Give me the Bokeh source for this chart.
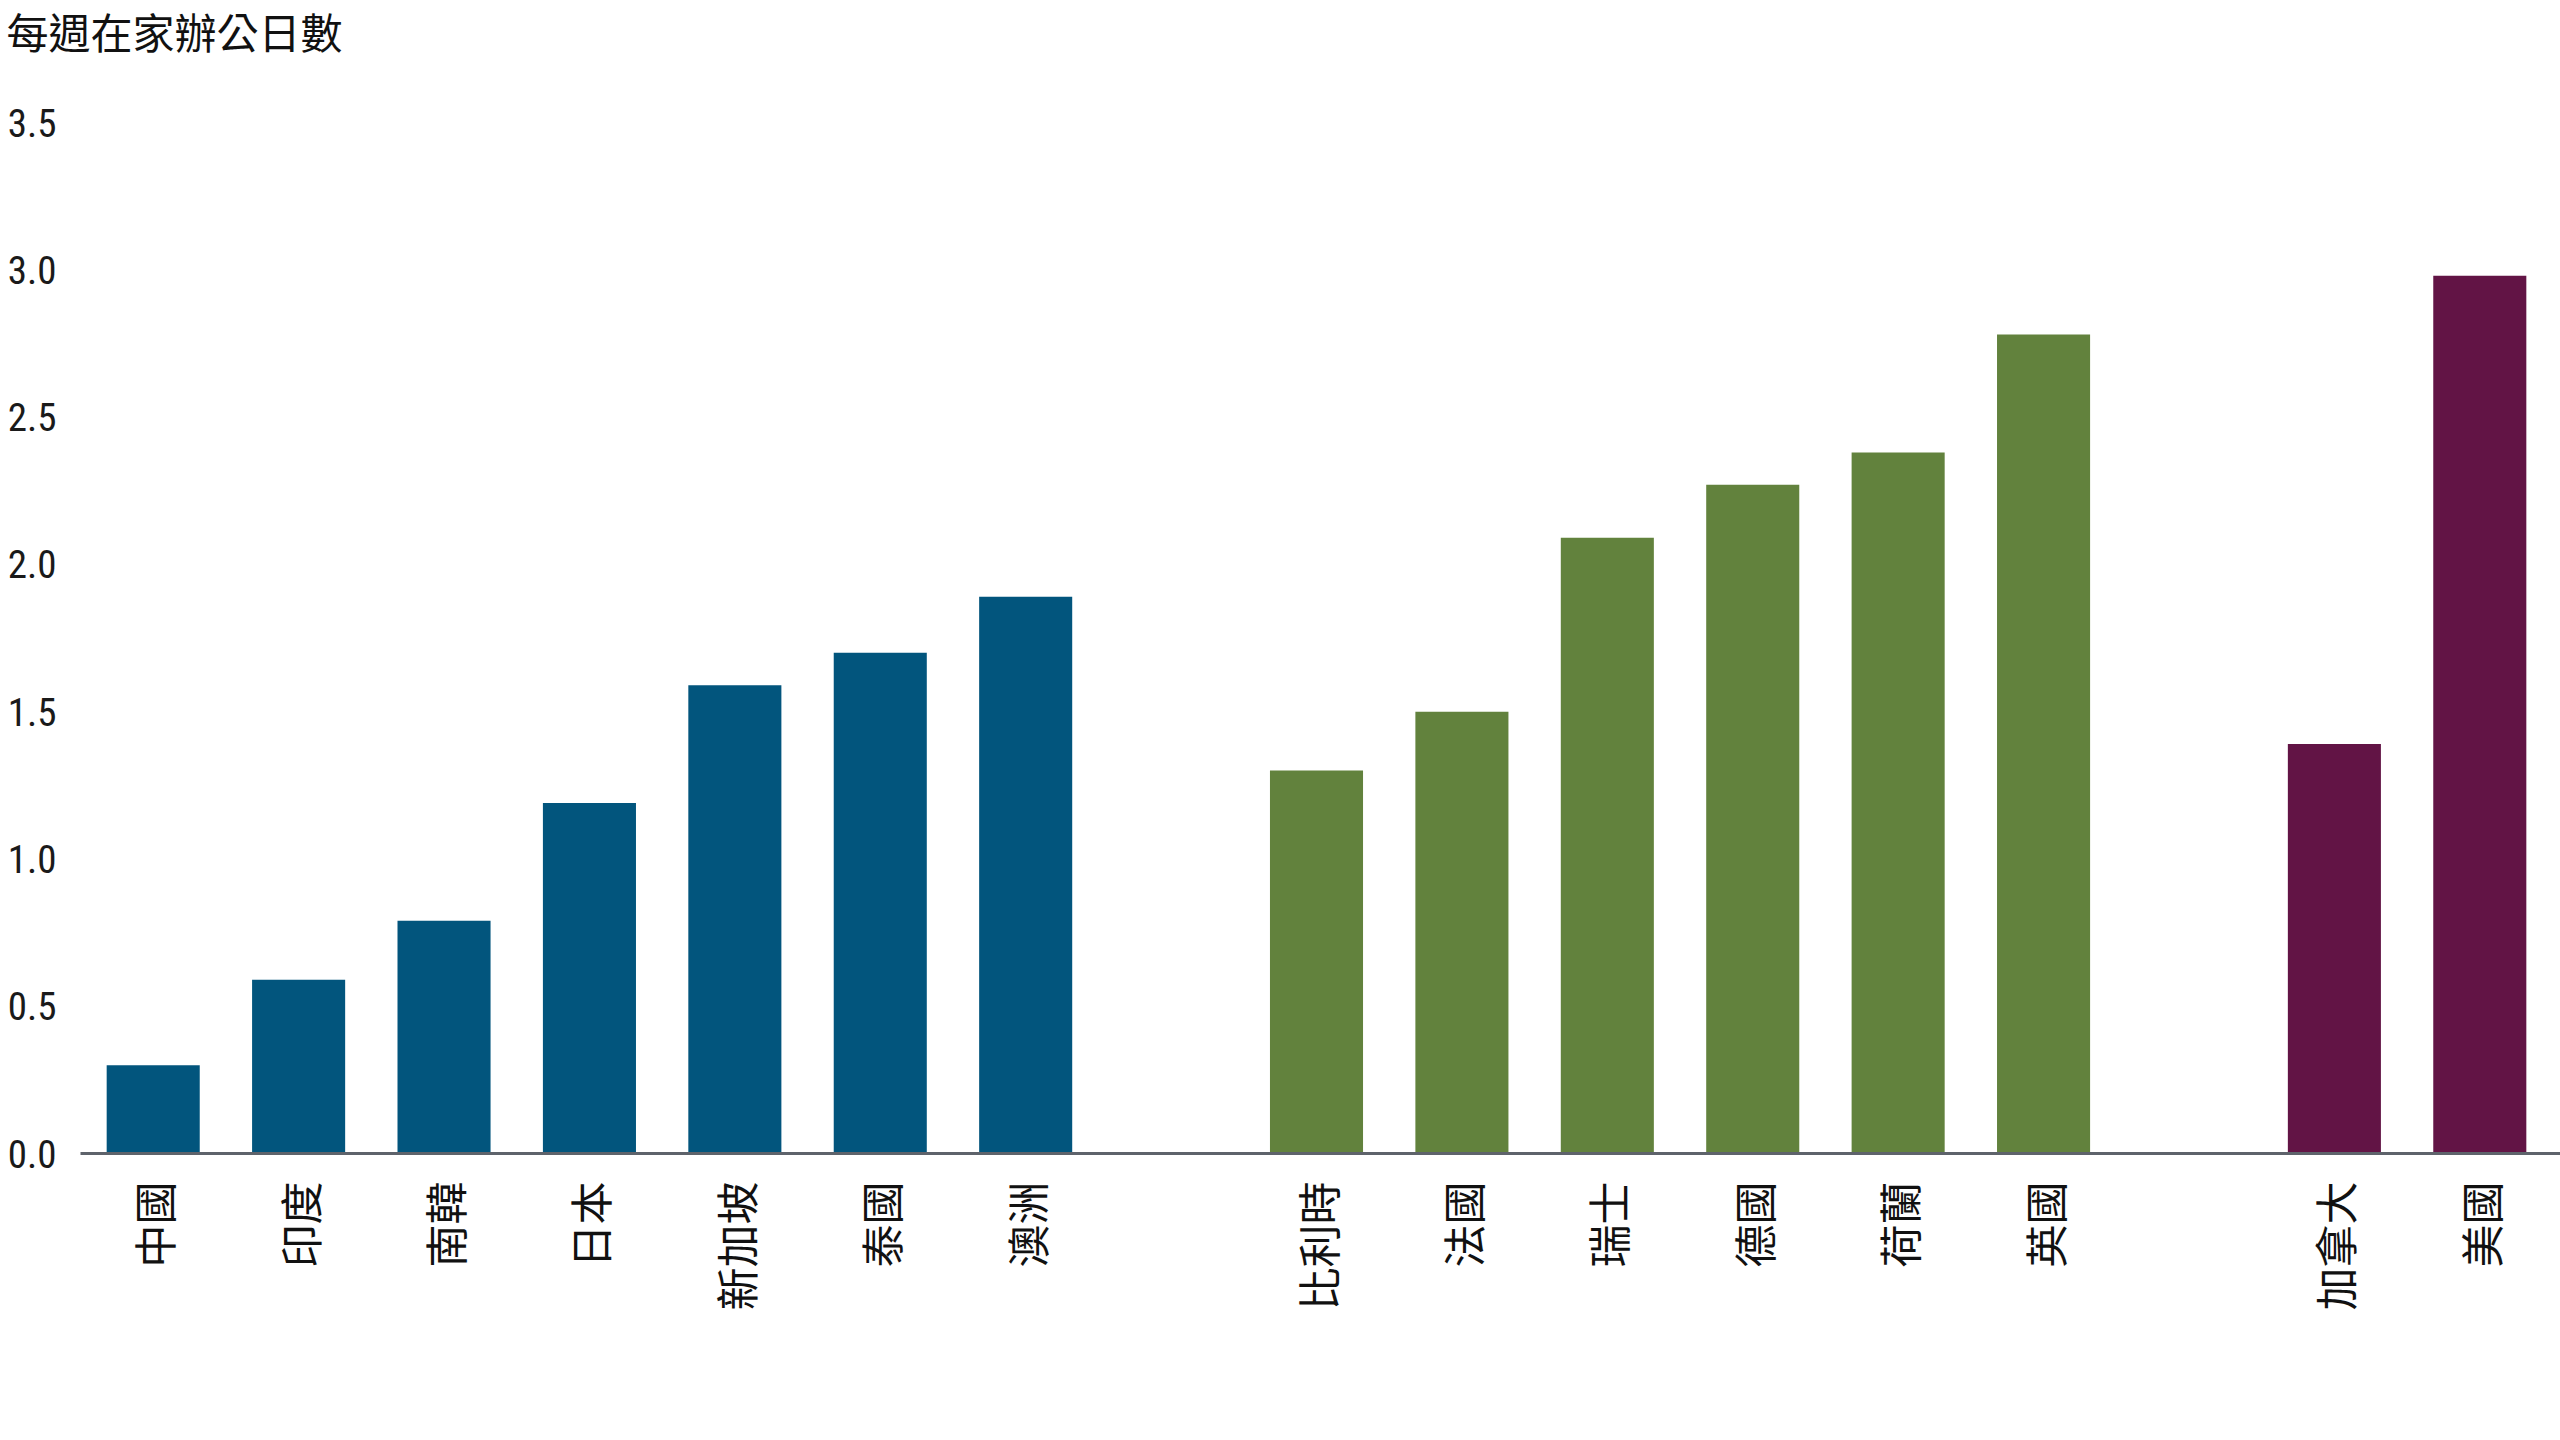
from math import pi
from bokeh.plotting import figure
from bokeh.models import FixedTicker, Range1d, ColumnDataSource, Label
from bokeh.embed import file_html
from bokeh.resources import INLINE

title_text = "每週在家辦公日數"
asia = ["中國", "印度", "南韓", "日本", "新加坡", "泰國", "澳洲"]
asia_vals = [0.30, 0.59, 0.79, 1.19, 1.59, 1.70, 1.89]
europe = ["比利時", "法國", "瑞士", "德國", "荷蘭", "英國"]
europe_vals = [1.30, 1.50, 2.09, 2.27, 2.38, 2.78]
america = ["加拿大", "美國"]
america_vals = [1.39, 2.98]
group_colors = ["#02557D", "#62823D", "#621445"]
y_ticks = [0.0, 0.5, 1.0, 1.5, 2.0, 2.5, 3.0, 3.5]

# slot positions: one empty slot between groups
names, values, colors, xpos = [], [], [], []
slot = 0
for cats, vals, col in [(asia, asia_vals, group_colors[0]),
                        (europe, europe_vals, group_colors[1]),
                        (america, america_vals, group_colors[2])]:
    for c, v in zip(cats, vals):
        names.append(c)
        values.append(v)
        colors.append(col)
        xpos.append(slot)
        slot += 1
    slot += 1

source = ColumnDataSource(data=dict(x=xpos, top=values, color=colors, name=names))

CJK = "Noto Sans CJK TC"
NUM = "'Roboto Condensed', Roboto, sans-serif"

W, FRAME_H, BOTTOM = 2560, 1175, 230
PX_LEFT, PX_RIGHT = 80, 2552          # where the category band starts / ends
PX_ZERO, PX_TOP = 1153, 122           # pixel rows of 0 and of the top tick
slot_px = (PX_RIGHT - PX_LEFT) / (xpos[-1] + 1)
unit_px = (PX_ZERO - PX_TOP) / y_ticks[-1]
x_start = xpos[0] - 0.5 - PX_LEFT / slot_px
x_end = xpos[-1] + 0.5 + (W - PX_RIGHT) / slot_px
y_start = -(FRAME_H - PX_ZERO) / unit_px
y_end = y_ticks[-1] + PX_TOP / unit_px

p = figure(x_range=Range1d(x_start, x_end), y_range=Range1d(y_start, y_end),
           width=W, height=FRAME_H + BOTTOM,
           output_backend="svg", toolbar_location=None,
           min_border_left=0, min_border_right=0,
           min_border_top=0, min_border_bottom=BOTTOM)

p.vbar(x="x", top="top", bottom=0, width=0.64, source=source,
       fill_color="color", line_color=None)

# baseline (x axis line) spanning the category band to the right edge
p.segment(x0=[xpos[0] - 0.5], x1=[x_end], y0=[0], y1=[0],
          line_color="#5E636B", line_width=3)

p.outline_line_color = None
p.xgrid.grid_line_color = None
p.ygrid.grid_line_color = None
p.yaxis.visible = False

xa = p.xaxis[0]
xa.ticker = FixedTicker(ticks=xpos)
xa.major_label_overrides = {x: n for x, n in zip(xpos, names)}
xa.major_label_orientation = pi / 2
xa.major_label_text_font = CJK
xa.major_label_text_font_size = "43px"
xa.major_label_text_color = "#111111"
xa.major_label_standoff = 6
xa.axis_line_color = None
xa.major_tick_line_color = None
xa.minor_tick_line_color = None
xa.major_tick_out = 0
xa.major_tick_in = 0

# y tick labels
for t in y_ticks:
    p.add_layout(Label(x=56, y=t, x_units="screen", y_units="data",
                       text=f"{t:.1f}", text_align="right", text_baseline="middle",
                       text_font=NUM, text_font_size="39px", text_color="#1a1a1a"))

# chart title (y-axis caption) in the top-left corner
p.add_layout(Label(x=6, y=FRAME_H - 30, x_units="screen", y_units="screen",
                   text=title_text, text_align="left", text_baseline="middle",
                   text_font=CJK, text_font_size="42px", text_color="#111111"))

open("out.html", "w").write(file_html(p, INLINE))
